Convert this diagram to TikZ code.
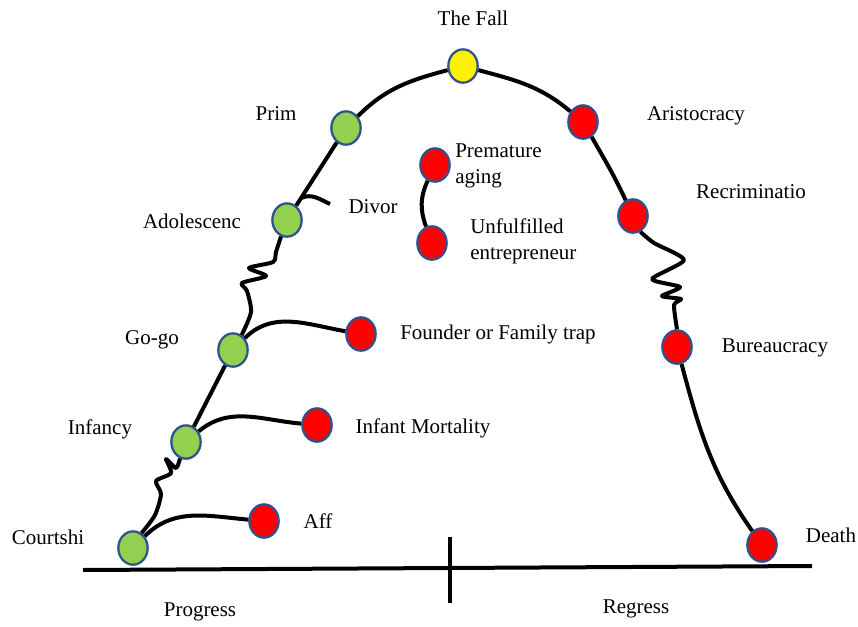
\documentclass[tikz,border=0pt]{standalone}
\usepackage{fontspec}
\setmainfont{Liberation Serif}
\usetikzlibrary{shapes.geometric}

\definecolor{rim}{HTML}{2F528F}
\definecolor{grow}{HTML}{92D050}

\begin{document}
\begin{tikzpicture}[x=0.75pt,y=-0.75pt,
    stage/.style={ellipse,draw=rim,line width=1.7pt,minimum width=22pt,minimum height=25pt,inner sep=0pt},
    up/.style={stage,fill=grow},
    down/.style={stage,fill=red},
    peak/.style={stage,fill=yellow},
    life/.style={line width=3pt,line join=round},
    lbl/.style={font=\fontsize{15.75}{19.5}\selectfont,inner sep=0pt}]
    \useasboundingbox (0,0) rectangle (858,626);

    \node[up] (court) at (133,548) {};
    \node[up] (infancy) at (186,442) {};
    \node[up] (gogo) at (233,350) {};
    \node[up] (adol) at (287,220) {};
    \node[up] (prime) at (346,128) {};
    \node[peak] (fall) at (463,66) {};
    \node[down] (arist) at (583,122) {};
    \node[down] (recrim) at (633,216) {};
    \node[down] (bureau) at (677,347) {};
    \node[down] (death) at (762,545) {};

    \node[down] (aff) at (264,521) {};
    \node[down] (mort) at (317,425) {};
    \node[down] (trap) at (361,334) {};
    \node[down] (aging) at (435,165) {};
    \node[down] (unfulf) at (432,243) {};

    \coordinate (divor) at (330,204);

    % the life cycle
    \draw[life] plot[smooth,tension=0.45] coordinates {(court.60) (155,515) (161,494) (156,481)
        (171,473) (166,459) (176,468) (infancy.-110)};
    \draw[life] (infancy) -- (gogo);
    \draw[life] plot[smooth,tension=0.45] coordinates {(gogo.60) (251,312) (247,291) (242,283)
        (266,276) (249,268) (273,262) (276,252) (adol.-110)};
    \draw[life] (adol) -- coordinate[pos=0.12] (split) (prime);
    \draw[life] (prime) to[out=45,in=195] (fall) to[out=-15,in=140] (arist)
        to[out=-60,in=115] (recrim);
    \draw[life] plot[smooth,tension=0.4] coordinates {(recrim.-65) (654,243) (684,260) (652,279)
        (680,287) (662,296) (681,299) (674,305) (bureau.north)};
    \draw[life] (bureau) to[out=-75,in=125] (death);

    % traps
    \draw[life] (court) to[out=45,in=175] (aff);
    \draw[life] (infancy) to[out=40,in=175] (mort);
    \draw[life] (gogo) to[out=45,in=170] (trap);
    \draw[life] (split) to[out=25,in=155] (divor);
    \draw[life] (aging) to[out=-115,in=110] (unfulf);

    % axis
    \coordinate (base-l) at (83,570);
    \coordinate (base-r) at (812,566);
    \coordinate (mid-t) at (450,537);
    \coordinate (mid-b) at (450,603);
    \draw[life] (base-l) -- (base-r);
    \draw[life] (mid-t) -- (mid-b);

    \node[lbl] (fall-l) at (473,18) {The Fall};
    \node[lbl] (prime-l) at (276,114) {Prim};
    \node[lbl] (arist-l) at (696,116) {Aristocracy};
    \node[lbl] (recrim-l) at (751,192) {Recriminatio};
    \node[lbl] (adol-l) at (192,221) {Adolescenc};
    \node[lbl] (divor-l) at (373,207) {Divor};
    \node[lbl, anchor=west, align=left] (aging-l) at (455,166) {Premature\\aging};
    \node[lbl, anchor=west, align=left] (unfulf-l) at (470,241) {Unfulfilled\\entrepreneur};
    \node[lbl] (gogo-l) at (152,340) {Go-go};
    \node[lbl] (trap-l) at (498,334) {Founder or Family trap};
    \node[lbl] (bureau-l) at (775,348) {Bureaucracy};
    \node[lbl] (infancy-l) at (100,429) {Infancy};
    \node[lbl] (mort-l) at (423,428) {Infant Mortality};
    \node[lbl] (court-l) at (48,537) {Courtshi};
    \node[lbl] (aff-l) at (318,521) {Aff};
    \node[lbl] (death-l) at (831,535) {Death};
    \node[lbl] (progress-l) at (200,612) {Progress};
    \node[lbl] (regress-l) at (636,609) {Regress};
\end{tikzpicture}
\end{document}
